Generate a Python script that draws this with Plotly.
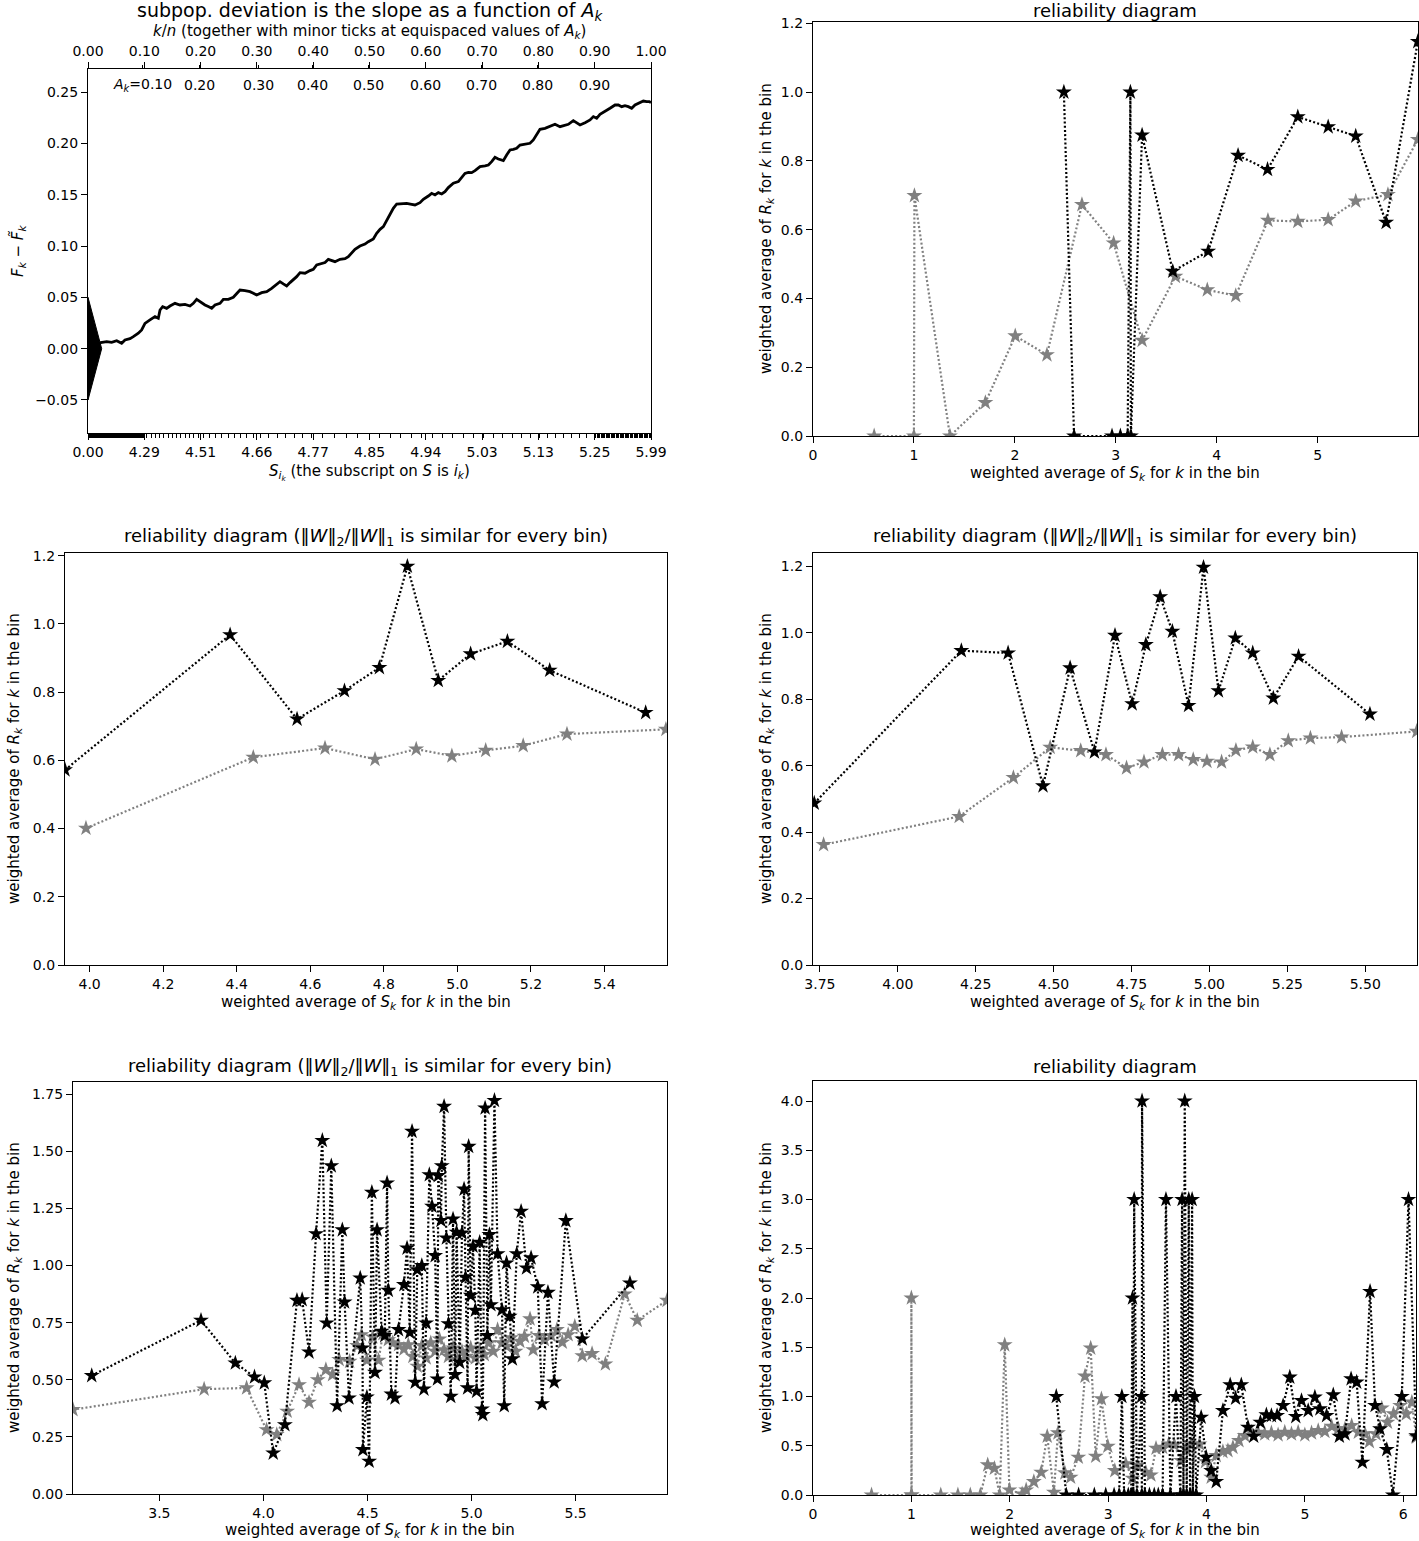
import numpy as np
import plotly.graph_objects as go

OFF = 0
W, H = 1419, 1541
FONT = "DejaVu Sans"

# ---------------- Panel 1: cumulative deviation ----------------
kn_curve = [0.0, 0.0225, 0.0332, 0.0420, 0.0509, 0.0598, 0.0657, 0.0746, 0.0805, 0.0894,
            0.0953, 0.1012, 0.1101, 0.1190, 0.1249, 0.1279, 0.1326, 0.1397, 0.1456, 0.1545,
            0.1634, 0.1723, 0.1812, 0.1871, 0.1930, 0.1989, 0.2078, 0.2137, 0.2197, 0.2256,
            0.2345, 0.2404, 0.2493, 0.2581, 0.2641, 0.2700, 0.2789, 0.2877, 0.2937, 0.2996,
            0.3085, 0.3174, 0.3262, 0.3351, 0.3410, 0.3469, 0.3529, 0.3588, 0.3647, 0.3706,
            0.3766, 0.3854, 0.3943, 0.4002, 0.4062, 0.4121, 0.4210, 0.4269, 0.4328, 0.4387,
            0.4476, 0.4565, 0.4624, 0.4683, 0.4742, 0.4831, 0.4920, 0.4979, 0.5068, 0.5127,
            0.5187, 0.5246, 0.5305, 0.5364, 0.5423, 0.5483, 0.5571, 0.5660, 0.5749, 0.5808,
            0.5897, 0.5956, 0.6045, 0.6104, 0.6163, 0.6223, 0.6282, 0.6341, 0.6400, 0.6489,
            0.6578, 0.6637, 0.6696, 0.6755, 0.6815, 0.6874, 0.6963, 0.7052, 0.7111, 0.7170,
            0.7229, 0.7288, 0.7377, 0.7436, 0.7496, 0.7555, 0.7614, 0.7673, 0.7762, 0.7851,
            0.7910, 0.7969, 0.8028, 0.8117, 0.8206, 0.8295, 0.8384, 0.8443, 0.8532, 0.8620,
            0.8680, 0.8739, 0.8828, 0.8917, 0.8976, 0.9035, 0.9094, 0.9183, 0.9272, 0.9361,
            0.9420, 0.9479, 0.9538, 0.9597, 0.9657, 0.9716, 0.9805, 0.9864, 0.9923, 0.9970,
            1.0]
dev_curve = [0.0, 0.0059, 0.0069, 0.0062, 0.0078, 0.0052, 0.0085, 0.0098, 0.0117, 0.0150,
             0.0182, 0.0247, 0.0280, 0.0312, 0.0296, 0.0377, 0.0410, 0.0393, 0.0416, 0.0442,
             0.0426, 0.0432, 0.0416, 0.0442, 0.0481, 0.0458, 0.0426, 0.0410, 0.0393, 0.0426,
             0.0442, 0.0481, 0.0481, 0.0501, 0.0540, 0.0572, 0.0566, 0.0556, 0.0540, 0.0523,
             0.0546, 0.0556, 0.0588, 0.0631, 0.0653, 0.0631, 0.0611, 0.0644, 0.0670, 0.0702,
             0.0741, 0.0735, 0.0761, 0.0774, 0.0816, 0.0826, 0.0839, 0.0871, 0.0858, 0.0848,
             0.0871, 0.0877, 0.0897, 0.0936, 0.0969, 0.1001, 0.1020, 0.1043, 0.1069, 0.1124,
             0.1163, 0.1189, 0.1254, 0.1303, 0.1368, 0.1410, 0.1417, 0.1417, 0.1407, 0.1401,
             0.1423, 0.1456, 0.1488, 0.1514, 0.1498, 0.1521, 0.1508, 0.1531, 0.1570, 0.1612,
             0.1628, 0.1670, 0.1709, 0.1719, 0.1716, 0.1735, 0.1774, 0.1781, 0.1790, 0.1823,
             0.1865, 0.1849, 0.1833, 0.1888, 0.1937, 0.1943, 0.1953, 0.1985, 0.1995, 0.2002,
             0.2034, 0.2093, 0.2138, 0.2148, 0.2164, 0.2187, 0.2164, 0.2171, 0.2187, 0.2223,
             0.2203, 0.2180, 0.2203, 0.2229, 0.2262, 0.2245, 0.2284, 0.2310, 0.2343, 0.2375,
             0.2375, 0.2359, 0.2369, 0.2359, 0.2343, 0.2375, 0.2401, 0.2414, 0.2408, 0.2408,
             0.2400]
triangle_x = [0.0, 0.0243, 0.0, 0.0]
triangle_y = [0.05, 0.0, -0.05, 0.05]
kn_ticks = [0.0, 0.1, 0.2, 0.3, 0.4, 0.5, 0.6, 0.7, 0.8, 0.9, 1.0]
kn_ticktext = ["0.00", "0.10", "0.20", "0.30", "0.40", "0.50", "0.60", "0.70", "0.80", "0.90", "1.00"]
s_ticktext = ["0.00", "4.29", "4.51", "4.66", "4.77", "4.85", "4.94", "5.03", "5.13", "5.25", "5.99"]
s_tickvalues = [0.0, 4.29, 4.51, 4.66, 4.77, 4.85, 4.94, 5.03, 5.13, 5.25, 5.99]
ak_label_pos = [0.097, 0.198, 0.302, 0.399, 0.498, 0.599, 0.699, 0.799, 0.899]
ak_label_text = ["<i>A</i><sub><i>k</i></sub>=0.10", "0.20", "0.30", "0.40", "0.50",
                 "0.60", "0.70", "0.80", "0.90"]
dev_ticks = [-0.05, 0.0, 0.05, 0.10, 0.15, 0.20, 0.25]
dev_ticktext = ["\u22120.05", "0.00", "0.05", "0.10", "0.15", "0.20", "0.25"]

# ---------------- Panel 2: reliability diagram ----------------
black_x2 = [2.486, 2.587, 2.963, 3.046, 3.118, 3.145, 3.150, 3.261, 3.565, 3.916, 4.212,
            4.504, 4.804, 5.105, 5.378, 5.679, 5.993]
black_y2 = [1.0, 0.0, 0.0, 0.0, 0.0, 1.0, 0.0, 0.875, 0.479, 0.537, 0.816,
            0.775, 0.928, 0.899, 0.872, 0.621, 1.147]
gray_x2 = [0.606, 1.0, 1.005, 1.357, 1.708, 2.004, 2.318, 2.665, 2.979, 3.261, 3.591,
           3.907, 4.189, 4.508, 4.804, 5.105, 5.378, 5.697, 5.993]
gray_y2 = [0.0, 0.0, 0.699, 0.0, 0.097, 0.291, 0.236, 0.673, 0.561, 0.278, 0.464,
           0.425, 0.408, 0.627, 0.624, 0.629, 0.683, 0.702, 0.862]

# ---------------- Panel 3 ----------------
black_x3 = [3.933, 4.382, 4.564, 4.693, 4.788, 4.864, 4.948, 5.036, 5.136, 5.251, 5.512]
black_y3 = [0.572, 0.968, 0.721, 0.804, 0.872, 1.169, 0.834, 0.912, 0.949, 0.864, 0.740]
gray_x3 = [3.990, 4.445, 4.640, 4.776, 4.888, 4.985, 5.077, 5.179, 5.298, 5.567]
gray_y3 = [0.401, 0.609, 0.636, 0.603, 0.633, 0.613, 0.629, 0.643, 0.677, 0.691]

# ---------------- Panel 4 ----------------
black_x4 = [3.732, 4.204, 4.354, 4.466, 4.553, 4.631, 4.697, 4.752, 4.796, 4.842,
            4.881, 4.933, 4.981, 5.029, 5.083, 5.139, 5.205, 5.286, 5.515]
black_y4 = [0.487, 0.946, 0.939, 0.539, 0.894, 0.641, 0.992, 0.786, 0.964, 1.108,
            1.004, 0.781, 1.197, 0.825, 0.984, 0.939, 0.803, 0.929, 0.755]
gray_x4 = [3.762, 4.197, 4.371, 4.489, 4.587, 4.668, 4.734, 4.790, 4.849, 4.901,
           4.948, 4.992, 5.039, 5.085, 5.139, 5.194, 5.253, 5.324, 5.424, 5.665]
gray_y4 = [0.362, 0.447, 0.564, 0.655, 0.645, 0.633, 0.593, 0.611, 0.633, 0.633,
           0.618, 0.613, 0.611, 0.646, 0.656, 0.633, 0.675, 0.683, 0.686, 0.703]

# ---------------- Panel 5 ----------------
black_x5 = [3.175, 3.700, 3.865, 3.957, 4.004, 4.047, 4.103, 4.161, 4.186, 4.219,
            4.253, 4.283, 4.304, 4.326, 4.354, 4.379, 4.390, 4.411, 4.465, 4.476,
            4.478, 4.497, 4.508, 4.521, 4.536, 4.546, 4.568, 4.583, 4.594, 4.600,
            4.615, 4.632, 4.649, 4.675, 4.690, 4.703, 4.714, 4.729, 4.739, 4.761,
            4.771, 4.782, 4.797, 4.810, 4.825, 4.836, 4.840, 4.853, 4.857, 4.868,
            4.879, 4.889, 4.900, 4.911, 4.921, 4.928, 4.943, 4.954, 4.964, 4.971,
            4.981, 4.986, 4.996, 5.007, 5.018, 5.024, 5.039, 5.050, 5.054, 5.065,
            5.076, 5.086, 5.093, 5.110, 5.125, 5.146, 5.157, 5.168, 5.183, 5.196,
            5.217, 5.238, 5.264, 5.286, 5.318, 5.339, 5.367, 5.397, 5.453, 5.532,
            5.761]
black_y5 = [0.518, 0.760, 0.573, 0.512, 0.486, 0.179, 0.303, 0.847, 0.850, 0.621,
            1.139, 1.547, 0.748, 1.436, 0.386, 1.156, 0.840, 0.420, 0.945, 0.639,
            0.194, 0.424, 0.143, 1.320, 0.532, 1.156, 0.712, 0.693, 1.361, 0.891,
            0.437, 0.420, 0.719, 0.916, 1.076, 0.707, 1.587, 0.489, 0.981, 0.999,
            0.459, 0.748, 1.397, 1.259, 1.043, 0.503, 1.393, 1.197, 1.436, 1.696,
            1.120, 0.745, 0.427, 1.203, 0.522, 1.145, 0.576, 1.142, 1.334, 0.948,
            0.464, 1.521, 0.869, 1.084, 0.804, 0.449, 1.101, 0.372, 0.347, 1.689,
            0.693, 1.135, 0.828, 1.722, 1.051, 0.806, 0.386, 1.011, 0.777, 0.591,
            1.051, 1.237, 0.989, 1.033, 0.906, 0.395, 0.882, 0.490, 1.196, 0.678,
            0.923]
gray_x5 = [3.085, 3.715, 3.919, 4.015, 4.064, 4.114, 4.171, 4.219, 4.261, 4.300,
           4.332, 4.364, 4.414, 4.450, 4.471, 4.497, 4.525, 4.553, 4.574, 4.600,
           4.621, 4.649, 4.675, 4.696, 4.718, 4.739, 4.761, 4.782, 4.804, 4.825,
           4.846, 4.868, 4.889, 4.911, 4.932, 4.954, 4.975, 4.996, 5.018, 5.039,
           5.061, 5.082, 5.104, 5.125, 5.146, 5.168, 5.189, 5.211, 5.232, 5.254,
           5.281, 5.296, 5.324, 5.350, 5.382, 5.410, 5.436, 5.464, 5.496, 5.532,
           5.579, 5.643, 5.736, 5.796, 5.939]
gray_y5 = [0.369, 0.459, 0.464, 0.281, 0.260, 0.362, 0.478, 0.401, 0.500, 0.544,
           0.522, 0.588, 0.580, 0.649, 0.697, 0.585, 0.687, 0.585, 0.701, 0.675,
           0.661, 0.653, 0.634, 0.653, 0.602, 0.559, 0.649, 0.595, 0.661, 0.624,
           0.678, 0.631, 0.602, 0.639, 0.588, 0.624, 0.602, 0.639, 0.595, 0.631,
           0.610, 0.661, 0.624, 0.719, 0.661, 0.646, 0.683, 0.624, 0.668, 0.690,
           0.766, 0.631, 0.693, 0.675, 0.693, 0.719, 0.664, 0.697, 0.734, 0.605,
           0.614, 0.569, 0.875, 0.760, 0.847]

# ---------------- Panel 6 ----------------
black_x6 = [2.473, 2.575, 2.700, 2.860, 2.976, 3.061, 3.112, 3.140, 3.163, 3.205,
            3.235, 3.248, 3.256, 3.265, 3.293, 3.340, 3.343, 3.345, 3.374, 3.420,
            3.469, 3.510, 3.554, 3.588, 3.633, 3.690, 3.735, 3.752, 3.766, 3.779,
            3.799, 3.820, 3.833, 3.854, 3.861, 3.878, 3.895, 3.946, 3.997, 4.048,
            4.099, 4.167, 4.241, 4.296, 4.354, 4.422, 4.480, 4.548, 4.609, 4.660,
            4.718, 4.779, 4.847, 4.908, 4.966, 5.034, 5.102, 5.153, 5.221, 5.289,
            5.351, 5.408, 5.470, 5.527, 5.585, 5.663, 5.714, 5.765, 5.833, 5.895,
            5.986, 6.054, 6.133]
black_y6 = [1.0, 0.0, 0.0, 0.0, 0.0, 0.0, 0.0, 1.0, 0.0, 0.0,
            0.0, 2.0, 0.0, 3.0, 0.0, 1.0, 0.0, 4.0, 0.0, 0.0,
            0.0, 0.0, 0.0, 3.0, 0.0, 1.0, 0.0, 3.0, 0.0, 4.0,
            0.0, 3.0, 0.0, 3.0, 0.0, 1.0, 0.0, 0.789, 0.383, 0.247,
            0.136, 0.857, 1.118, 0.982, 1.118, 0.688, 0.596, 0.738, 0.813, 0.806,
            0.806, 0.908, 1.196, 0.796, 0.959, 0.857, 0.993, 0.874, 0.806, 1.016,
            0.596, 0.620, 1.179, 1.145, 0.332, 2.066, 0.908, 0.671, 0.461, 0.0,
            1.0, 3.0, 0.6]
gray_x6 = [0.595, 1.0, 1.0, 1.003, 1.299, 1.473, 1.599, 1.701, 1.776, 1.844,
           1.898, 1.949, 1.997, 2.126, 2.167, 2.245, 2.320, 2.381, 2.449, 2.490,
           2.561, 2.619, 2.697, 2.765, 2.823, 2.874, 2.932, 2.997, 3.068, 3.180,
           3.248, 3.299, 3.384, 3.435, 3.487, 3.554, 3.616, 3.673, 3.741, 3.793,
           3.844, 3.929, 3.990, 4.048, 4.099, 4.167, 4.218, 4.269, 4.330, 4.388,
           4.456, 4.524, 4.592, 4.660, 4.728, 4.796, 4.864, 4.932, 5.000, 5.068,
           5.136, 5.204, 5.272, 5.340, 5.408, 5.476, 5.544, 5.612, 5.656, 5.724,
           5.782, 5.840, 5.901, 5.969, 6.031, 6.088, 6.133]
gray_y6 = [0.0, 0.0, 2.0, 0.0, 0.0, 0.0, 0.0, 0.0, 0.305, 0.271,
           0.0, 1.524, 0.051, 0.01, 0.051, 0.135, 0.230, 0.596, 0.027, 0.630,
           0.224, 0.180, 0.383, 1.206, 1.491, 0.393, 0.976, 0.495, 0.247, 0.315,
           0.169, 0.298, 0.230, 0.203, 0.474, 0.484, 0.518, 0.508, 0.349, 0.467,
           0.518, 0.518, 0.339, 0.180, 0.400, 0.440, 0.451, 0.484, 0.552, 0.603,
           0.637, 0.637, 0.620, 0.630, 0.610, 0.637, 0.620, 0.637, 0.610, 0.630,
           0.654, 0.644, 0.698, 0.671, 0.671, 0.705, 0.637, 0.620, 0.542, 0.620,
           0.881, 0.738, 0.823, 0.908, 0.823, 0.942, 0.586]

# ---------------- layout geometry (page pixels: left, right, top, bottom) ----------------
boxes = {
    1: (88, 651, 69, 433),
    2: (813, 1418, 22, 436),
    3: (65, 667, 553, 965),
    4: (813, 1417, 553, 965),
    5: (73, 667, 1082, 1494),
    6: (813, 1416, 1081, 1495),
}


def px(x):
    return (x - OFF) / W


def py(y):
    return 1 - (y - OFF) / H


def xdom(n):
    l, r, t, b = boxes[n]
    return [px(l), min(px(r), 1.0)]


def ydom(n):
    l, r, t, b = boxes[n]
    return [max(py(b), 0.0), py(t)]


GRAY = "#808080"
fig = go.Figure()


def add_pair(n, bx, by, gx, gy):
    xa = "x" if n == 1 else f"x{n}"
    ya = "y" if n == 1 else f"y{n}"
    m = min(len(gx), len(gy))
    fig.add_trace(go.Scatter(x=gx[:m], y=gy[:m], xaxis=xa, yaxis=ya, mode="lines+markers",
                             line=dict(color=GRAY, width=2.2, dash="2px,2.2px"),
                             marker=dict(symbol="star", size=12, color=GRAY, line=dict(width=0)),
                             showlegend=False, hoverinfo="skip"))
    m = min(len(bx), len(by))
    fig.add_trace(go.Scatter(x=bx[:m], y=by[:m], xaxis=xa, yaxis=ya, mode="lines+markers",
                             line=dict(color="black", width=2.2, dash="2px,2.2px"),
                             marker=dict(symbol="star", size=12, color="black", line=dict(width=0)),
                             showlegend=False, hoverinfo="skip"))


# panel 1 traces
fig.add_trace(go.Scatter(x=triangle_x, y=triangle_y, xaxis="x", yaxis="y", mode="lines",
                         fill="toself", fillcolor="black", line=dict(color="black", width=1),
                         showlegend=False, hoverinfo="skip"))
fig.add_trace(go.Scatter(x=kn_curve, y=dev_curve, xaxis="x", yaxis="y", mode="lines",
                         line=dict(color="black", width=2.8), showlegend=False, hoverinfo="skip"))
# register the top k/n axis (no visible marks)
fig.add_trace(go.Scatter(x=[kn_ticks[0], kn_ticks[-1]], y=[None, None], xaxis="x7", yaxis="y",
                         mode="lines", showlegend=False, hoverinfo="skip"))

add_pair(2, black_x2, black_y2, gray_x2, gray_y2)
add_pair(3, black_x3, black_y3, gray_x3, gray_y3)
add_pair(4, black_x4, black_y4, gray_x4, gray_y4)
add_pair(5, black_x5, black_y5, gray_x5, gray_y5)
add_pair(6, black_x6, black_y6, gray_x6, gray_y6)

tickfont = dict(family=FONT, size=14, color="black")
base = dict(showline=True, linecolor="black", linewidth=1.3, mirror=True, ticks="outside",
            ticklen=6, tickwidth=1.3, tickcolor="black", showgrid=False, zeroline=False,
            tickfont=tickfont, automargin=False)

# minor ticks for panel 1 bottom axis: equispaced S values mapped onto k/n
s_minor = np.arange(0.0, 5.99, 1.0 / 60.0)
kn_minor = np.interp(s_minor, s_tickvalues, kn_ticks)

layout = dict(
    template="none",
    width=W, height=H, autosize=False,
    margin=dict(l=0, r=0, t=0, b=0, autoexpand=False),
    paper_bgcolor="white", plot_bgcolor="white",
    font=dict(family=FONT, size=14, color="black"),
    showlegend=False,
)

layout["xaxis"] = dict(base, domain=xdom(1), anchor="y", range=[0, 1], tickmode="array",
                       tickvals=kn_ticks, ticktext=s_ticktext,
                       minor=dict(tickmode="array", tickvals=list(kn_minor), ticks="outside",
                                  ticklen=4, tickwidth=1, tickcolor="black"))
layout["xaxis7"] = dict(base, domain=xdom(1), anchor="y", overlaying="x", side="top",
                        range=[0, 1], tickmode="array", tickvals=kn_ticks, ticktext=kn_ticktext,
                        minor=dict(tickmode="array", tickvals=ak_label_pos, ticks="outside",
                                   ticklen=3, tickwidth=1, tickcolor="black"))
layout["yaxis"] = dict(base, domain=ydom(1), anchor="x", range=[-0.0822, 0.2726],
                       tickmode="array", tickvals=dev_ticks, ticktext=dev_ticktext)

layout["xaxis2"] = dict(base, domain=xdom(2), anchor="y2", range=[0, 5.995], tick0=0, dtick=1)
layout["yaxis2"] = dict(base, domain=ydom(2), anchor="x2", range=[0, 1.204], tick0=0, dtick=0.2,
                        tickformat=".1f")
layout["xaxis3"] = dict(base, domain=xdom(3), anchor="y3", range=[3.933, 5.570], tick0=4.0,
                        dtick=0.2, tickformat=".1f")
layout["yaxis3"] = dict(base, domain=ydom(3), anchor="x3", range=[0, 1.208], tick0=0, dtick=0.2,
                        tickformat=".1f")
layout["xaxis4"] = dict(base, domain=xdom(4), anchor="y4", range=[3.728, 5.666], tick0=3.75,
                        dtick=0.25, tickformat=".2f")
layout["yaxis4"] = dict(base, domain=ydom(4), anchor="x4", range=[0, 1.240], tick0=0, dtick=0.2,
                        tickformat=".1f")
layout["xaxis5"] = dict(base, domain=xdom(5), anchor="y5", range=[3.085, 5.939], tick0=3.5,
                        dtick=0.5, tickformat=".1f")
layout["yaxis5"] = dict(base, domain=ydom(5), anchor="x5", range=[0, 1.803], tick0=0, dtick=0.25,
                        tickformat=".2f")
layout["xaxis6"] = dict(base, domain=xdom(6), anchor="y6", range=[0, 6.13], tick0=0, dtick=1)
layout["yaxis6"] = dict(base, domain=ydom(6), anchor="x6", range=[0, 4.203], tick0=0, dtick=0.5,
                        tickformat=".1f")

fig.update_layout(**layout)

# ---------------- text annotations ----------------
ann = []


def text(x, y, s, size=15, angle=0):
    ann.append(dict(x=px(x), y=py(y), xref="paper", yref="paper", text=s, showarrow=False,
                    xanchor="center", yanchor="middle", textangle=angle,
                    font=dict(family=FONT, size=size, color="black")))


rel_x = "weighted average of <i>S</i><sub><i>k</i></sub> for <i>k</i> in the bin"
rel_y = "weighted average of <i>R</i><sub><i>k</i></sub> for <i>k</i> in the bin"
sim = "reliability diagram (\u2016<i>W</i>\u2016<sub>2</sub>/\u2016<i>W</i>\u2016<sub>1</sub> is similar for every bin)"

text(370, 12, "subpop. deviation is the slope as a function of <i>A</i><sub><i>k</i></sub>", 19)
text(370, 32, "<i>k</i>/<i>n</i> (together with minor ticks at equispaced values of <i>A</i><sub><i>k</i></sub>)", 15)
text(370, 472, "<i>S</i><sub><i>i</i><sub><i>k</i></sub></sub> (the subscript on <i>S</i> is <i>i</i><sub><i>k</i></sub>)", 15)
text(18, 251, "<i>F</i><sub><i>k</i></sub> \u2212 <i>F\u0303</i><sub><i>k</i></sub>", 15, -90)

text(1115, 11, "reliability diagram", 18)
text(1115, 474, rel_x)
text(766, 229, rel_y, 15, -90)

text(366, 537, sim, 18)
text(366, 1003, rel_x)
text(14, 759, rel_y, 15, -90)

text(1115, 537, sim, 18)
text(1115, 1003, rel_x)
text(766, 759, rel_y, 15, -90)

text(370, 1067, sim, 18)
text(370, 1530, rel_x)
text(14, 1288, rel_y, 15, -90)

text(1115, 1066, "reliability diagram", 18)
text(1115, 1530, rel_x)
text(766, 1288, rel_y, 15, -90)

for xp, s in zip(ak_label_pos, ak_label_text):
    ann.append(dict(x=xp, y=0.257, xref="x", yref="y", text=s, showarrow=False,
                    xanchor="center", yanchor="middle",
                    font=dict(family=FONT, size=14, color="black")))

fig.update_layout(annotations=ann)
# remove the page's default body margin so the 1419x1541 figure fills the window exactly
fig.write_html("out.html", config={"displayModeBar": False},
               post_script="document.body.style.margin='0px';")
